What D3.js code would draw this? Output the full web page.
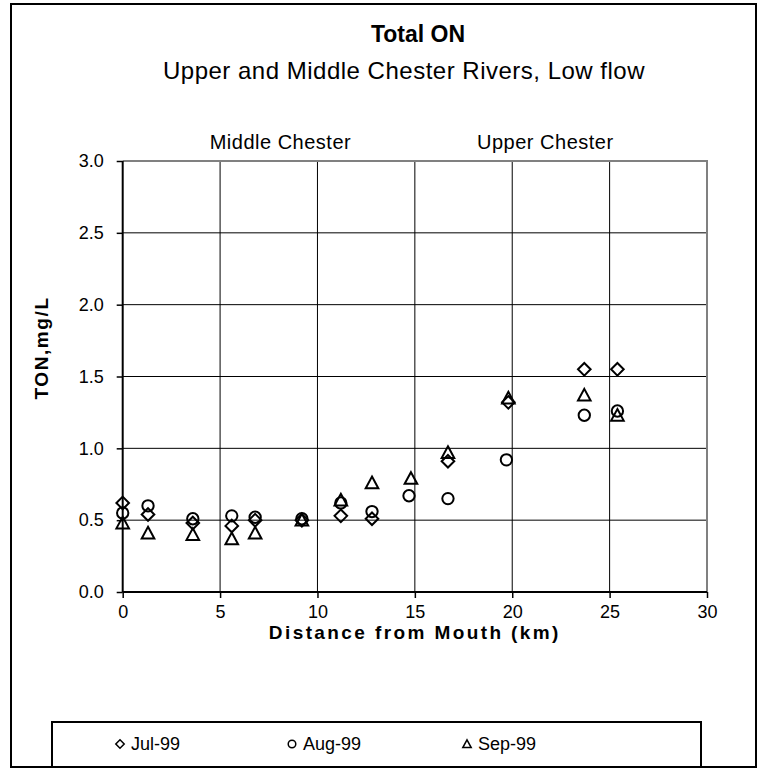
<!DOCTYPE html>
<html>
<head>
<meta charset="utf-8">
<script src="https://cdn.jsdelivr.net/npm/d3@7"></script>
<style>
  body { margin: 0; background: #fff; }
  text { font-family: "Liberation Sans", Arial, sans-serif; fill: #000; }
</style>
</head>
<body>
<div id="chart"></div>
<script>
// data
var seriesNames = ["Jul-99", "Aug-99", "Sep-99"];
var julDist = [0, 1.3, 3.6, 5.6, 6.8, 9.2, 11.2, 12.8, 16.7, 19.8, 23.7, 25.4];
var julTON  = [0.62, 0.54, 0.48, 0.46, 0.50, 0.50, 0.53, 0.51, 0.91, 1.32, 1.55, 1.55];
var augDist = [0, 1.3, 3.6, 5.6, 6.8, 9.2, 11.2, 12.8, 14.7, 16.7, 19.7, 23.7, 25.4];
var augTON  = [0.55, 0.60, 0.51, 0.53, 0.52, 0.51, 0.62, 0.56, 0.67, 0.65, 0.92, 1.23, 1.26];
var sepDist = [0, 1.3, 3.6, 5.6, 6.8, 9.2, 11.2, 12.8, 14.8, 16.7, 19.8, 23.7, 25.4];
var sepTON  = [0.48, 0.41, 0.40, 0.37, 0.41, 0.50, 0.64, 0.76, 0.79, 0.97, 1.35, 1.37, 1.23];
var xTicks = [0, 5, 10, 15, 20, 25, 30];
var yTicks = [0, 0.5, 1.0, 1.5, 2.0, 2.5, 3.0];
var regions = ["Middle Chester", "Upper Chester"];

var width = 763, height = 769;
var plot = { left: 122.7, right: 707, top: 161, bottom: 592 };

var svg = d3.select("#chart").append("svg")
    .attr("width", width).attr("height", height);

var x = d3.scaleLinear().domain([0, 30]).range([plot.left, plot.right]);
var y = d3.scaleLinear().domain([0, 3]).range([plot.bottom, plot.top]);

// outer frame
svg.append("rect")
    .attr("x", 11).attr("y", 4).attr("width", 745).attr("height", 763)
    .attr("fill", "none").attr("stroke", "#000").attr("stroke-width", 2);

// titles
svg.append("text").attr("x", 418).attr("y", 42)
    .attr("text-anchor", "middle").style("font-size", "23px").style("font-weight", "bold")
    .text("Total ON");
svg.append("text").attr("x", 404).attr("y", 79)
    .attr("text-anchor", "middle").style("font-size", "24px").style("letter-spacing", "0.5px")
    .text("Upper and Middle Chester Rivers, Low flow");

// region labels
var regionX = [8.1, 21.7];
svg.selectAll(".region").data(regions).enter().append("text")
    .attr("class", "region")
    .attr("x", (d, i) => x(regionX[i])).attr("y", 149)
    .attr("text-anchor", "middle").style("font-size", "20px").style("letter-spacing", "0.5px")
    .text(d => d);

// grid
var g = svg.append("g");
g.selectAll(".vgrid").data(xTicks.slice(1, -1)).enter().append("line")
    .attr("x1", d => x(d)).attr("x2", d => x(d))
    .attr("y1", plot.top).attr("y2", plot.bottom)
    .attr("stroke", "#000").attr("stroke-width", 1);
g.selectAll(".hgrid").data(yTicks.slice(1, -1)).enter().append("line")
    .attr("x1", plot.left).attr("x2", plot.right)
    .attr("y1", d => y(d)).attr("y2", d => y(d))
    .attr("stroke", "#000").attr("stroke-width", 1);

// gray top/right border
g.append("path")
    .attr("d", `M${plot.left},${plot.top}H${plot.right}V${plot.bottom}`)
    .attr("fill", "none").attr("stroke", "#808080").attr("stroke-width", 2);

// axes
var xAxis = svg.append("g").attr("transform", `translate(0,${plot.bottom})`)
    .call(d3.axisBottom(x).tickValues(xTicks).tickSize(6).tickPadding(7).tickFormat(d3.format("d")));
var yAxis = svg.append("g").attr("transform", `translate(${plot.left},0)`)
    .call(d3.axisLeft(y).tickValues(yTicks).tickSize(6).tickPadding(13).tickFormat(d3.format(".1f")));
[xAxis, yAxis].forEach(function (a) {
    a.select(".domain").attr("stroke", "#000").attr("stroke-width", 2);
    a.selectAll(".tick line").attr("stroke", "#000").attr("stroke-width", 1.5);
    a.selectAll(".tick text").style("font-size", "18px").style("font-family", "Liberation Sans, Arial, sans-serif");
});
xAxis.select(".domain").attr("d", `M${plot.left},0H${plot.right}`);
yAxis.select(".domain").attr("d", `M0,${plot.bottom}V${plot.top}`);

// axis titles
svg.append("text").attr("x", x(15)).attr("y", 639)
    .attr("text-anchor", "middle").style("font-size", "19px").style("font-weight", "bold")
    .style("letter-spacing", "2.4px")
    .text("Distance from Mouth (km)");
svg.append("text")
    .attr("transform", `translate(48,348) rotate(-90)`)
    .attr("text-anchor", "middle").style("font-size", "19px").style("font-weight", "bold")
    .style("letter-spacing", "1.6px")
    .text("TON,mg/L");

// markers
function markerPath(kind, s) {
    if (kind === 0) return `M0,${-s}L${s},0L0,${s}L${-s},0Z`;
    if (kind === 1) return d3.arc()({ innerRadius: 0, outerRadius: s * 0.9, startAngle: 0, endAngle: 2 * Math.PI });
    return `M0,${-s}L${s},${s * 0.85}L${-s},${s * 0.85}Z`;
}

var series = [
    { dist: julDist, val: julTON },
    { dist: augDist, val: augTON },
    { dist: sepDist, val: sepTON }
];

series.forEach(function (s, k) {
    svg.append("g").selectAll("path")
        .data(s.dist.map((d, i) => [d, s.val[i]]))
        .enter().append("path")
        .attr("transform", d => `translate(${x(d[0])},${y(d[1])})`)
        .attr("d", markerPath(k, 6.3))
        .attr("fill", "none").attr("stroke", "#000").attr("stroke-width", 2);
});

// legend
svg.append("rect")
    .attr("x", 52).attr("y", 722).attr("width", 649).attr("height", 45)
    .attr("fill", "#fff").attr("stroke", "#000").attr("stroke-width", 2);
var legendX = [120, 292, 467];
var leg = svg.selectAll(".leg").data(seriesNames).enter().append("g")
    .attr("transform", (d, i) => `translate(${legendX[i]},744)`);
leg.append("path")
    .attr("d", (d, i) => markerPath(i, 4.2))
    .attr("fill", "none").attr("stroke", "#000").attr("stroke-width", 1.5);
leg.append("text").attr("x", 11).attr("y", 6)
    .style("font-size", "18px")
    .text(d => d);
</script>
</body>
</html>
